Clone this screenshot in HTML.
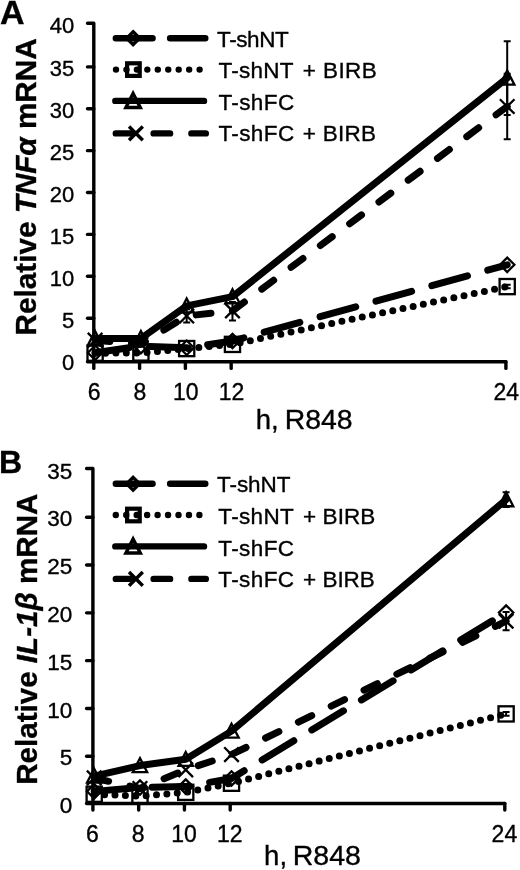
<!DOCTYPE html>
<html><head><meta charset="utf-8"><style>
html,body{margin:0;padding:0;background:#fff;}
body{width:520px;height:870px;overflow:hidden;}
svg{display:block;font-family:"Liberation Sans", sans-serif;will-change:transform;}
text{fill:#000;stroke:#000;stroke-width:0.35px;}
text.b{stroke-width:0.3px;}
</style></head><body>
<svg width="520" height="870" viewBox="0 0 520 870">
<rect width="520" height="870" fill="#fff"/>
<path d="M87.50,23.20 H93.80 V361.80 H505.90" fill="none" stroke="#000" stroke-width="3.4" stroke-linejoin="round" stroke-linecap="round"/>
<path d="M87.50,66.90 H93.80" stroke="#000" stroke-width="3.4" stroke-linecap="round"/>
<path d="M87.50,108.78 H93.80" stroke="#000" stroke-width="3.4" stroke-linecap="round"/>
<path d="M87.50,150.66 H93.80" stroke="#000" stroke-width="3.4" stroke-linecap="round"/>
<path d="M87.50,192.54 H93.80" stroke="#000" stroke-width="3.4" stroke-linecap="round"/>
<path d="M87.50,234.42 H93.80" stroke="#000" stroke-width="3.4" stroke-linecap="round"/>
<path d="M87.50,276.30 H93.80" stroke="#000" stroke-width="3.4" stroke-linecap="round"/>
<path d="M87.50,318.18 H93.80" stroke="#000" stroke-width="3.4" stroke-linecap="round"/>
<path d="M87.50,361.80 H93.80" stroke="#000" stroke-width="3.4" stroke-linecap="round"/>
<path d="M93.80,361.80 V368.40" stroke="#000" stroke-width="3.4" stroke-linecap="round"/>
<path d="M139.59,361.80 V368.40" stroke="#000" stroke-width="3.4" stroke-linecap="round"/>
<path d="M185.38,361.80 V368.40" stroke="#000" stroke-width="3.4" stroke-linecap="round"/>
<path d="M231.17,361.80 V368.40" stroke="#000" stroke-width="3.4" stroke-linecap="round"/>
<path d="M505.90,361.80 V368.40" stroke="#000" stroke-width="3.4" stroke-linecap="round"/>
<text x="74.30" y="33.40" text-anchor="end" font-size="22">40</text>
<text x="74.30" y="75.51" text-anchor="end" font-size="22">35</text>
<text x="74.30" y="117.62" text-anchor="end" font-size="22">30</text>
<text x="74.30" y="159.73" text-anchor="end" font-size="22">25</text>
<text x="74.30" y="201.84" text-anchor="end" font-size="22">20</text>
<text x="74.30" y="243.95" text-anchor="end" font-size="22">15</text>
<text x="74.30" y="286.06" text-anchor="end" font-size="22">10</text>
<text x="74.30" y="328.17" text-anchor="end" font-size="22">5</text>
<text x="74.30" y="370.28" text-anchor="end" font-size="22">0</text>
<text x="94.20" y="400.00" text-anchor="middle" font-size="23">6</text>
<text x="139.99" y="400.00" text-anchor="middle" font-size="23">8</text>
<text x="185.78" y="400.00" text-anchor="middle" font-size="23">10</text>
<text x="231.57" y="400.00" text-anchor="middle" font-size="23">12</text>
<text x="506.30" y="400.00" text-anchor="middle" font-size="23">24</text>
<text y="429.30" font-size="27.5"><tspan x="255.80">h,</tspan><tspan x="284.74" textLength="67.95" lengthAdjust="spacingAndGlyphs">R848</tspan></text>
<text transform="translate(36.30,335.40) rotate(-90)" font-size="30" font-weight="bold" textLength="297" lengthAdjust="spacingAndGlyphs">Relative <tspan font-style="italic">TNFα</tspan> mRNA</text>
<text x="0.0" y="23.6" font-size="34" font-weight="bold">A</text>
<polyline points="95.10,352.76 140.89,346.06 186.68,347.74 232.47,341.04 507.20,264.81" fill="none" stroke="#000" stroke-width="7.0" stroke-linecap="round" stroke-linejoin="round" stroke-dasharray="37 21" stroke-dashoffset="2.7"/>
<polyline points="95.10,353.18 140.89,353.01 186.68,348.57 232.47,344.39 507.20,286.59" fill="none" stroke="#000" stroke-width="7.0" stroke-linecap="round" stroke-linejoin="round" stroke-dasharray="0 10.4" stroke-dashoffset="0"/>
<polyline points="95.10,338.52 140.89,338.52 186.68,305.86 232.47,296.64 507.20,78.03" fill="none" stroke="#000" stroke-width="7.0" stroke-linecap="round" stroke-linejoin="round"  stroke-dashoffset="0"/>
<polyline points="95.10,340.20 140.89,344.39 186.68,315.91 232.47,310.88 507.20,106.51" fill="none" stroke="#000" stroke-width="7.0" stroke-linecap="round" stroke-linejoin="round" stroke-dasharray="14.8 21.7" stroke-dashoffset="0"/>
<path d="M507.20,41.17 V114.88 M503.70,41.17 H510.70 M503.70,114.88 H510.70" stroke="#000" stroke-width="2" fill="none"/>
<path d="M507.20,73.84 V139.17 M503.70,73.84 H510.70 M503.70,139.17 H510.70" stroke="#000" stroke-width="2" fill="none"/>
<path d="M186.68,309.21 V322.61 M183.18,309.21 H190.18 M183.18,322.61 H190.18" stroke="#000" stroke-width="2" fill="none"/>
<path d="M232.47,302.09 V320.51 M228.97,302.09 H235.97 M228.97,320.51 H235.97" stroke="#000" stroke-width="2" fill="none"/>
<path d="M507.20,284.83 V288.35 M503.70,284.83 H510.70 M503.70,288.35 H510.70" stroke="#000" stroke-width="2" fill="none"/>
<path d="M95.10,345.56 L102.30,352.76 L95.10,359.96 L87.90,352.76 Z" fill="none" stroke="#000" stroke-width="2.3" stroke-linejoin="miter"/>
<path d="M140.89,338.86 L148.09,346.06 L140.89,353.26 L133.69,346.06 Z" fill="none" stroke="#000" stroke-width="2.3" stroke-linejoin="miter"/>
<path d="M186.68,340.54 L193.88,347.74 L186.68,354.94 L179.48,347.74 Z" fill="none" stroke="#000" stroke-width="2.3" stroke-linejoin="miter"/>
<path d="M232.47,333.84 L239.67,341.04 L232.47,348.24 L225.27,341.04 Z" fill="none" stroke="#000" stroke-width="2.3" stroke-linejoin="miter"/>
<path d="M507.20,257.61 L514.40,264.81 L507.20,272.01 L500.00,264.81 Z" fill="none" stroke="#000" stroke-width="2.3" stroke-linejoin="miter"/>
<rect x="87.50" y="345.58" width="15.20" height="15.20" fill="none" stroke="#000" stroke-width="2.3"/>
<rect x="133.29" y="345.41" width="15.20" height="15.20" fill="none" stroke="#000" stroke-width="2.3"/>
<rect x="179.08" y="340.97" width="15.20" height="15.20" fill="none" stroke="#000" stroke-width="2.3"/>
<rect x="224.87" y="336.79" width="15.20" height="15.20" fill="none" stroke="#000" stroke-width="2.3"/>
<rect x="499.60" y="278.99" width="15.20" height="15.20" fill="none" stroke="#000" stroke-width="2.3"/>
<path d="M95.10,331.12 L102.30,345.12 L87.90,345.12 Z" fill="none" stroke="#000" stroke-width="2.3" stroke-linejoin="miter"/>
<path d="M140.89,331.12 L148.09,345.12 L133.69,345.12 Z" fill="none" stroke="#000" stroke-width="2.3" stroke-linejoin="miter"/>
<path d="M186.68,298.46 L193.88,312.46 L179.48,312.46 Z" fill="none" stroke="#000" stroke-width="2.3" stroke-linejoin="miter"/>
<path d="M232.47,289.24 L239.67,303.24 L225.27,303.24 Z" fill="none" stroke="#000" stroke-width="2.3" stroke-linejoin="miter"/>
<path d="M507.20,70.63 L514.40,84.63 L500.00,84.63 Z" fill="none" stroke="#000" stroke-width="2.3" stroke-linejoin="miter"/>
<path d="M87.80,332.90 L102.40,347.50 M102.40,332.90 L87.80,347.50" fill="none" stroke="#000" stroke-width="2.3"/>
<path d="M133.59,337.09 L148.19,351.69 M148.19,337.09 L133.59,351.69" fill="none" stroke="#000" stroke-width="2.3"/>
<path d="M179.38,308.61 L193.98,323.21 M193.98,308.61 L179.38,323.21" fill="none" stroke="#000" stroke-width="2.3"/>
<path d="M225.17,303.58 L239.77,318.18 M239.77,303.58 L225.17,318.18" fill="none" stroke="#000" stroke-width="2.3"/>
<path d="M499.90,99.21 L514.50,113.81 M514.50,99.21 L499.90,113.81" fill="none" stroke="#000" stroke-width="2.3"/>
<path d="M115.80,38.20 H205.30" stroke="#000" stroke-width="6.4" stroke-linecap="round" stroke-dasharray="36.8 17.5"/>
<path d="M133.10,31.79 L139.51,38.20 L133.10,44.61 L126.69,38.20 Z" fill="none" stroke="#000" stroke-width="3.4" stroke-linejoin="miter"/>
<text y="47.20" font-size="22.5"><tspan x="217.11" textLength="71.69" lengthAdjust="spacing">T-shNT</tspan></text>
<path d="M116.00,69.60 H200.00" stroke="#000" stroke-width="6.4" stroke-linecap="round" stroke-dasharray="0 10.45"/>
<rect x="127.09" y="63.29" width="12.62" height="12.62" fill="none" stroke="#000" stroke-width="4.2"/>
<text y="78.00" font-size="22.5"><tspan x="218.51" textLength="74.99" lengthAdjust="spacing">T-shNT</tspan><tspan x="302.73">+</tspan><tspan x="323.10" textLength="53.56" lengthAdjust="spacing">BIRB</tspan></text>
<path d="M115.30,100.90 H204.00" stroke="#000" stroke-width="6.4" stroke-linecap="round" />
<path d="M133.10,93.50 L140.30,107.50 L125.90,107.50 Z" fill="none" stroke="#000" stroke-width="3.4" stroke-linejoin="miter"/>
<text y="110.30" font-size="22.5"><tspan x="218.41" textLength="75.73" lengthAdjust="spacing">T-shFC</tspan></text>
<path d="M115.80,133.40 H205.80" stroke="#000" stroke-width="6.4" stroke-linecap="round" stroke-dasharray="16.5 21.3"/>
<path d="M129.00,126.50 L142.80,140.30 M142.80,126.50 L129.00,140.30" fill="none" stroke="#000" stroke-width="3.4"/>
<text y="141.40" font-size="22.5"><tspan x="218.41" textLength="75.73" lengthAdjust="spacing">T-shFC</tspan><tspan x="302.73">+</tspan><tspan x="322.80" textLength="53.16" lengthAdjust="spacing">BIRB</tspan></text>
<path d="M86.60,468.50 H92.90 V803.50 H504.80" fill="none" stroke="#000" stroke-width="3.4" stroke-linejoin="round" stroke-linecap="round"/>
<path d="M86.60,517.20 H92.90" stroke="#000" stroke-width="3.4" stroke-linecap="round"/>
<path d="M86.60,565.02 H92.90" stroke="#000" stroke-width="3.4" stroke-linecap="round"/>
<path d="M86.60,612.84 H92.90" stroke="#000" stroke-width="3.4" stroke-linecap="round"/>
<path d="M86.60,660.66 H92.90" stroke="#000" stroke-width="3.4" stroke-linecap="round"/>
<path d="M86.60,708.48 H92.90" stroke="#000" stroke-width="3.4" stroke-linecap="round"/>
<path d="M86.60,756.30 H92.90" stroke="#000" stroke-width="3.4" stroke-linecap="round"/>
<path d="M86.60,803.50 H92.90" stroke="#000" stroke-width="3.4" stroke-linecap="round"/>
<path d="M92.90,803.50 V810.10" stroke="#000" stroke-width="3.4" stroke-linecap="round"/>
<path d="M138.67,803.50 V810.10" stroke="#000" stroke-width="3.4" stroke-linecap="round"/>
<path d="M184.43,803.50 V810.10" stroke="#000" stroke-width="3.4" stroke-linecap="round"/>
<path d="M230.20,803.50 V810.10" stroke="#000" stroke-width="3.4" stroke-linecap="round"/>
<path d="M504.80,803.50 V810.10" stroke="#000" stroke-width="3.4" stroke-linecap="round"/>
<text x="72.30" y="478.60" text-anchor="end" font-size="22.5">35</text>
<text x="72.30" y="526.40" text-anchor="end" font-size="22.5">30</text>
<text x="72.30" y="574.20" text-anchor="end" font-size="22.5">25</text>
<text x="72.30" y="622.00" text-anchor="end" font-size="22.5">20</text>
<text x="72.30" y="669.80" text-anchor="end" font-size="22.5">15</text>
<text x="72.30" y="717.60" text-anchor="end" font-size="22.5">10</text>
<text x="72.30" y="765.40" text-anchor="end" font-size="22.5">5</text>
<text x="72.30" y="813.20" text-anchor="end" font-size="22.5">0</text>
<text x="92.50" y="842.00" text-anchor="middle" font-size="23">6</text>
<text x="138.27" y="842.00" text-anchor="middle" font-size="23">8</text>
<text x="184.03" y="842.00" text-anchor="middle" font-size="23">10</text>
<text x="229.80" y="842.00" text-anchor="middle" font-size="23">12</text>
<text x="504.40" y="842.00" text-anchor="middle" font-size="23">24</text>
<text y="865.00" font-size="27.5"><tspan x="264.10">h,</tspan><tspan x="292.74" textLength="68.25" lengthAdjust="spacingAndGlyphs">R848</tspan></text>
<text transform="translate(36.80,784.80) rotate(-90)" font-size="30" font-weight="bold" textLength="291.2" lengthAdjust="spacingAndGlyphs">Relative <tspan font-style="italic">IL-1β</tspan> mRNA</text>
<text x="-0.9" y="472.5" font-size="32" font-weight="bold">B</text>
<polyline points="94.20,791.37 139.97,787.54 185.73,786.58 231.50,778.46 506.10,612.52" fill="none" stroke="#000" stroke-width="7.0" stroke-linecap="round" stroke-linejoin="round" stroke-dasharray="37 21" stroke-dashoffset="0"/>
<polyline points="94.20,794.24 139.97,796.15 185.73,792.32 231.50,783.24 506.10,713.90" fill="none" stroke="#000" stroke-width="7.0" stroke-linecap="round" stroke-linejoin="round" stroke-dasharray="0 10.4" stroke-dashoffset="0"/>
<polyline points="94.20,776.06 139.97,765.54 185.73,759.33 231.50,731.11 506.10,499.66" fill="none" stroke="#000" stroke-width="7.0" stroke-linecap="round" stroke-linejoin="round"  stroke-dashoffset="0"/>
<polyline points="94.20,777.98 139.97,788.50 185.73,769.85 231.50,754.55 506.10,621.13" fill="none" stroke="#000" stroke-width="7.0" stroke-linecap="round" stroke-linejoin="round" stroke-dasharray="14.8 21.7" stroke-dashoffset="0"/>
<path d="M506.10,612.04 V630.21 M502.60,612.04 H509.60 M502.60,630.21 H509.60" stroke="#000" stroke-width="2" fill="none"/>
<path d="M231.50,752.63 V756.46 M228.00,752.63 H235.00 M228.00,756.46 H235.00" stroke="#000" stroke-width="2" fill="none"/>
<path d="M506.10,492.30 V507.03 M502.60,492.30 H509.60 M502.60,507.03 H509.60" stroke="#000" stroke-width="2" fill="none"/>
<path d="M506.10,711.99 V715.81 M502.60,711.99 H509.60 M502.60,715.81 H509.60" stroke="#000" stroke-width="2" fill="none"/>
<path d="M94.20,784.17 L101.40,791.37 L94.20,798.57 L87.00,791.37 Z" fill="none" stroke="#000" stroke-width="2.3" stroke-linejoin="miter"/>
<path d="M139.97,780.34 L147.17,787.54 L139.97,794.74 L132.77,787.54 Z" fill="none" stroke="#000" stroke-width="2.3" stroke-linejoin="miter"/>
<path d="M185.73,779.38 L192.93,786.58 L185.73,793.78 L178.53,786.58 Z" fill="none" stroke="#000" stroke-width="2.3" stroke-linejoin="miter"/>
<path d="M231.50,771.26 L238.70,778.46 L231.50,785.66 L224.30,778.46 Z" fill="none" stroke="#000" stroke-width="2.3" stroke-linejoin="miter"/>
<path d="M506.10,605.32 L513.30,612.52 L506.10,619.72 L498.90,612.52 Z" fill="none" stroke="#000" stroke-width="2.3" stroke-linejoin="miter"/>
<rect x="86.60" y="786.64" width="15.20" height="15.20" fill="none" stroke="#000" stroke-width="2.3"/>
<rect x="132.37" y="788.55" width="15.20" height="15.20" fill="none" stroke="#000" stroke-width="2.3"/>
<rect x="178.13" y="784.72" width="15.20" height="15.20" fill="none" stroke="#000" stroke-width="2.3"/>
<rect x="223.90" y="775.64" width="15.20" height="15.20" fill="none" stroke="#000" stroke-width="2.3"/>
<rect x="498.50" y="706.30" width="15.20" height="15.20" fill="none" stroke="#000" stroke-width="2.3"/>
<path d="M94.20,768.66 L101.40,782.66 L87.00,782.66 Z" fill="none" stroke="#000" stroke-width="2.3" stroke-linejoin="miter"/>
<path d="M139.97,758.14 L147.17,772.14 L132.77,772.14 Z" fill="none" stroke="#000" stroke-width="2.3" stroke-linejoin="miter"/>
<path d="M185.73,751.93 L192.93,765.93 L178.53,765.93 Z" fill="none" stroke="#000" stroke-width="2.3" stroke-linejoin="miter"/>
<path d="M231.50,723.71 L238.70,737.71 L224.30,737.71 Z" fill="none" stroke="#000" stroke-width="2.3" stroke-linejoin="miter"/>
<path d="M506.10,492.26 L513.30,506.26 L498.90,506.26 Z" fill="none" stroke="#000" stroke-width="2.3" stroke-linejoin="miter"/>
<path d="M86.90,770.68 L101.50,785.28 M101.50,770.68 L86.90,785.28" fill="none" stroke="#000" stroke-width="2.3"/>
<path d="M132.67,781.20 L147.27,795.80 M147.27,781.20 L132.67,795.80" fill="none" stroke="#000" stroke-width="2.3"/>
<path d="M178.43,762.55 L193.03,777.15 M193.03,762.55 L178.43,777.15" fill="none" stroke="#000" stroke-width="2.3"/>
<path d="M224.20,747.25 L238.80,761.85 M238.80,747.25 L224.20,761.85" fill="none" stroke="#000" stroke-width="2.3"/>
<path d="M498.80,613.83 L513.40,628.43 M513.40,613.83 L498.80,628.43" fill="none" stroke="#000" stroke-width="2.3"/>
<path d="M115.80,483.80 H205.30" stroke="#000" stroke-width="6.4" stroke-linecap="round" stroke-dasharray="36.8 17.5"/>
<path d="M133.10,477.39 L139.51,483.80 L133.10,490.21 L126.69,483.80 Z" fill="none" stroke="#000" stroke-width="3.4" stroke-linejoin="miter"/>
<text y="492.30" font-size="22.5"><tspan x="217.11" textLength="73.29" lengthAdjust="spacing">T-shNT</tspan></text>
<path d="M115.80,515.00 H199.60" stroke="#000" stroke-width="6.4" stroke-linecap="round" stroke-dasharray="0 10.45"/>
<rect x="127.09" y="508.69" width="12.62" height="12.62" fill="none" stroke="#000" stroke-width="4.2"/>
<text y="523.80" font-size="22.5"><tspan x="218.31" textLength="75.39" lengthAdjust="spacing">T-shNT</tspan><tspan x="302.93">+</tspan><tspan x="322.60" textLength="52.76" lengthAdjust="spacing">BIRB</tspan></text>
<path d="M115.30,546.40 H204.00" stroke="#000" stroke-width="6.4" stroke-linecap="round" />
<path d="M133.10,539.00 L140.30,553.00 L125.90,553.00 Z" fill="none" stroke="#000" stroke-width="3.4" stroke-linejoin="miter"/>
<text y="555.90" font-size="22.5"><tspan x="218.31" textLength="75.73" lengthAdjust="spacing">T-shFC</tspan></text>
<path d="M115.80,578.90 H205.80" stroke="#000" stroke-width="6.4" stroke-linecap="round" stroke-dasharray="16.5 21.3"/>
<path d="M129.00,572.00 L142.80,585.80 M142.80,572.00 L129.00,585.80" fill="none" stroke="#000" stroke-width="3.4"/>
<text y="586.60" font-size="22.5"><tspan x="218.31" textLength="75.73" lengthAdjust="spacing">T-shFC</tspan><tspan x="302.93">+</tspan><tspan x="322.60" textLength="52.16" lengthAdjust="spacing">BIRB</tspan></text>
</svg>
</body></html>
